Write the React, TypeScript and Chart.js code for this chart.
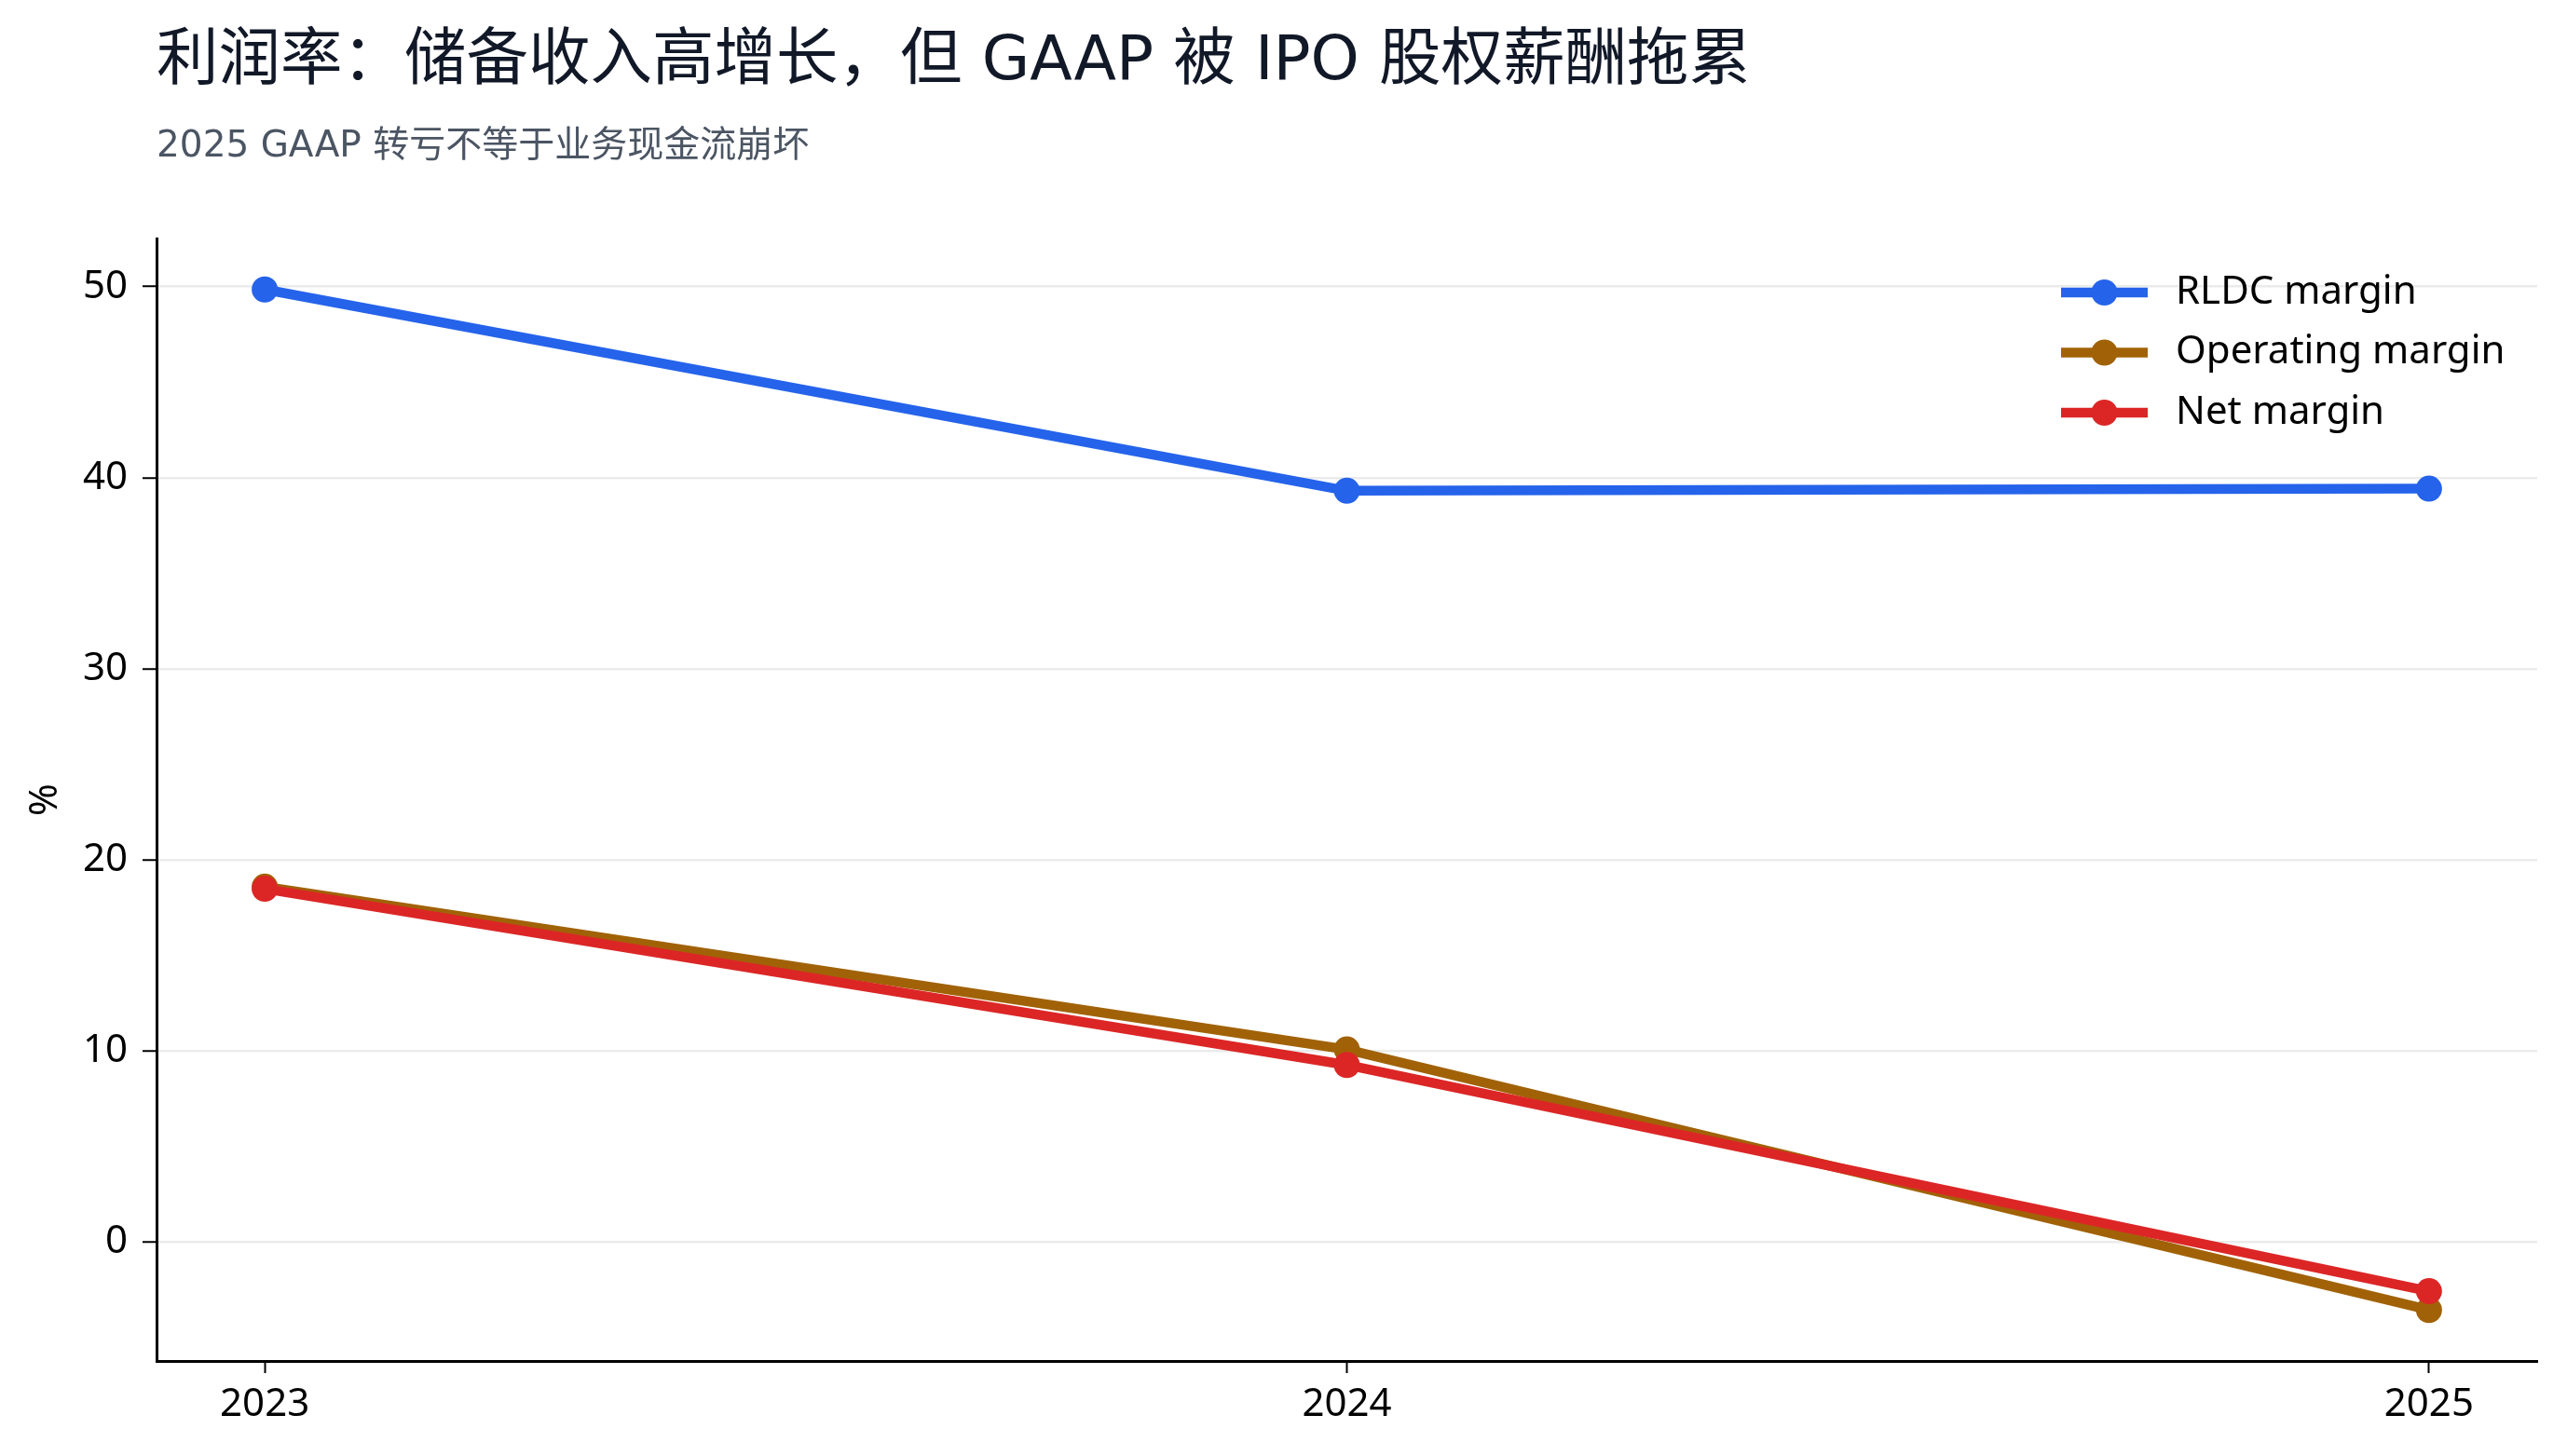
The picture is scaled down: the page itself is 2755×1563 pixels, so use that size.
import React, { useEffect, useRef } from 'react';
import { Chart, registerables } from 'chart.js';

Chart.register(...registerables);

const TITLE = '利润率：储备收入高增长，但 GAAP 被 IPO 股权薪酬拖累';
const SUBTITLE = '2025 GAAP 转亏不等于业务现金流崩坏';
const years = [2023, 2024, 2025];
const seriesNames = ['RLDC margin', 'Operating margin', 'Net margin'];
const rldcMargin = [49.85, 39.32, 39.43];
const operatingMargin = [18.6, 10.08, -3.55];
const netMargin = [18.49, 9.27, -2.57];
const yTicks = [0, 10, 20, 30, 40, 50];
const xTicks = [2023, 2024, 2025];
const yAxisLabel = '%';
const yMin = -6.22;
const yMax = 52.52;
const xMin = 2022.9;
const xMax = 2025.1;
const colors = ['#2563eb', '#a16207', '#dc2626'];

const W = 2755;
const H = 1563;
const LINE_W = 10.5;

const decorPlugin = {
  id: 'decor',
  afterDraw(chart: any) {
    const ctx = chart.ctx;
    const area = chart.chartArea;
    ctx.save();
    ctx.textAlign = 'left';
    ctx.textBaseline = 'middle';
    ctx.fillStyle = '#111827';
    ctx.font = '66.5px "DejaVu Sans", "Noto Sans CJK SC"';
    ctx.fillText(TITLE, area.left, 68);
    ctx.fillStyle = '#4b5563';
    ctx.font = '39px "DejaVu Sans", "Noto Sans CJK SC"';
    ctx.fillText(SUBTITLE, area.left, 158);

    const lx = area.right - 511;
    const ly = area.top + 58;
    chart.data.datasets.forEach((ds: any, i: number) => {
      const y = ly + i * 64.5;
      ctx.strokeStyle = ds.borderColor;
      ctx.lineWidth = LINE_W;
      ctx.lineCap = 'butt';
      ctx.beginPath();
      ctx.moveTo(lx, y);
      ctx.lineTo(lx + 93, y);
      ctx.stroke();
      ctx.fillStyle = ds.borderColor;
      ctx.beginPath();
      ctx.arc(lx + 46.5, y, 14, 0, Math.PI * 2);
      ctx.fill();
      ctx.fillStyle = '#000';
      ctx.font = '42px "Noto Sans"';
      ctx.fillText(ds.label, lx + 123, y);
    });
    ctx.restore();
  },
};

export default function App() {
  const ref = useRef<HTMLCanvasElement | null>(null);

  useEffect(() => {
    if (!ref.current) return;
    Chart.defaults.font.family = '"Noto Sans"';
    const seriesValues = [rldcMargin, operatingMargin, netMargin];
    const orders = [2, 1, 0];
    const chart = new Chart(ref.current, {
      type: 'line',
      data: {
        datasets: seriesValues.map((vals, i) => ({
          label: seriesNames[i],
          data: years.map((yr, j) => ({ x: yr, y: vals[j] })),
          borderColor: colors[i],
          backgroundColor: colors[i],
          pointBackgroundColor: colors[i],
          pointBorderColor: colors[i],
          pointBorderWidth: 0,
          pointRadius: 14,
          pointHoverRadius: 14,
          borderWidth: LINE_W,
          tension: 0,
          fill: false,
          order: orders[i],
        })),
      },
      options: {
        responsive: false,
        animation: false,
        events: [],
        layout: { padding: { left: 0, top: 256, right: 32, bottom: 0 } },
        plugins: {
          legend: { display: false },
          title: { display: false },
          tooltip: { enabled: false },
        },
        scales: {
          x: {
            type: 'linear',
            min: xMin,
            max: xMax,
            afterBuildTicks: (scale: any) => {
              scale.ticks = xTicks.map((v) => ({ value: v }));
            },
            afterFit: (scale: any) => {
              scale.height = 102;
              scale.paddingLeft = 0;
              scale.paddingRight = 0;
            },
            ticks: {
              callback: (v: any) => String(v),
              color: '#000',
              font: { size: 42 },
              padding: 9,
              maxRotation: 0,
              autoSkip: false,
            },
            grid: {
              drawOnChartArea: false,
              drawTicks: true,
              tickLength: 13,
              tickColor: '#000',
              tickWidth: 2,
            },
            border: { display: true, color: '#000', width: 3 },
          },
          y: {
            type: 'linear',
            min: yMin,
            max: yMax,
            afterBuildTicks: (scale: any) => {
              scale.ticks = yTicks.map((v) => ({ value: v }));
            },
            afterFit: (scale: any) => {
              scale.width = 168;
              scale.paddingTop = 0;
              scale.paddingBottom = 0;
            },
            ticks: {
              callback: (v: any) => String(v),
              color: '#000',
              font: { size: 42 },
              padding: 16,
            },
            grid: {
              color: '#ebebeb',
              lineWidth: 2.5,
              drawTicks: true,
              tickLength: 15,
              tickColor: '#000',
              tickWidth: 2,
            },
            border: { display: true, color: '#000', width: 3 },
            title: {
              display: true,
              text: yAxisLabel,
              color: '#000',
              font: { size: 42 },
              padding: { top: 24, bottom: 0 },
            },
          },
        },
      },
      plugins: [decorPlugin],
    });
    return () => chart.destroy();
  }, []);

  return (
    <div style={{ position: 'absolute', left: 0, top: 0, width: W, height: H, background: '#fff' }}>
      <canvas ref={ref} width={W} height={H} style={{ width: W, height: H, display: 'block' }} />
    </div>
  );
}
